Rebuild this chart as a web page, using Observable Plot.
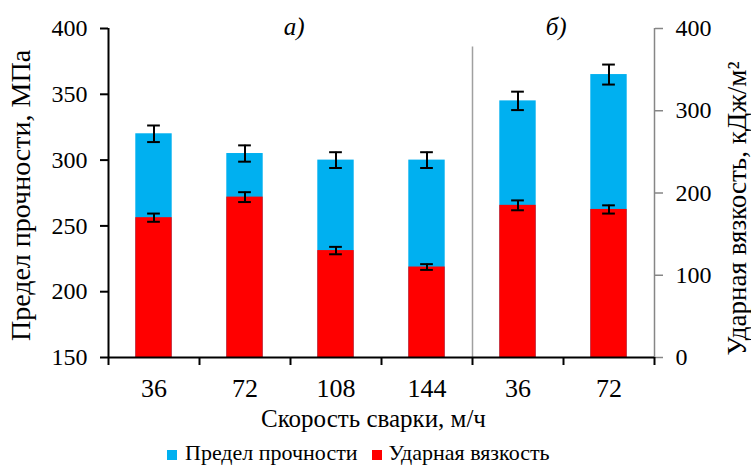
<!DOCTYPE html>
<html><head><meta charset="utf-8">
<script src="https://cdn.jsdelivr.net/npm/d3@7"></script>
<script src="https://cdn.jsdelivr.net/npm/@observablehq/plot@0.6"></script>
<style>
body{margin:0;padding:0;background:#fff;}
.serif{font-family:'Liberation Serif',serif;}
</style></head><body>
<div id="chart" class="serif" style="position:relative;width:751px;height:467px;font-family:'Liberation Serif',serif;"></div>
<script>
const speeds = ["36","72","108","144","36","72"];
const strength = [320, 305, 300, 300, 345, 365];
const strengthErr = [6.3, 6.2, 6, 6, 7, 7.6];
const toughness = [170, 195, 130, 110, 185, 180];
const toughnessErr = [5, 6, 4.5, 3.5, 6, 5];
const leftTicks = [150, 200, 250, 300, 350, 400];
const rightTicks = [0, 100, 200, 300, 400];
const panelLabels = ["а)", "б)"];
const panelCenters = [2.04, 4.92];
const dividers = [4];
const seriesNames = ["Предел прочности", "Ударная вязкость"];
const colors = ["#00B0F0", "#FF0000"];
const leftTitle = "Предел прочности, МПа";
const rightTitle = "Ударная вязкость, кДж/м²";
const xTitle = "Скорость сварки, м/ч";

const toLeft = d3.scaleLinear([0, 400], [150, 400]);
const rows = speeds.map((s, i) => ({
  i, speed: s,
  s: strength[i], sLo: strength[i] - strengthErr[i], sHi: strength[i] + strengthErr[i],
  t: toLeft(toughness[i]), tLo: toLeft(toughness[i] - toughnessErr[i]), tHi: toLeft(toughness[i] + toughnessErr[i])
}));
const cap = 0.07;
const gray = "#868686";
const ff = "Liberation Serif";

const errMarks = (lo, hi) => [
  Plot.ruleX(rows, {x: d => d.i + 0.5, y1: lo, y2: hi, stroke: "#000", strokeWidth: 2}),
  Plot.ruleY(rows, {y: lo, x1: d => d.i + 0.5 - cap, x2: d => d.i + 0.5 + cap, stroke: "#000", strokeWidth: 2}),
  Plot.ruleY(rows, {y: hi, x1: d => d.i + 0.5 - cap, x2: d => d.i + 0.5 + cap, stroke: "#000", strokeWidth: 2})
];

const plot = Plot.plot({
  width: 751, height: 440,
  marginLeft: 108, marginRight: 97, marginTop: 28, marginBottom: 83,
  style: "font-family: 'Liberation Serif', serif; font-size: 24px; color: #000; background: #fff;",
  x: {type: "linear", domain: [0, 6], axis: null},
  y: {domain: [150, 400], axis: null},
  marks: [
    Plot.rectY(rows, {x1: d => d.i + 0.3, x2: d => d.i + 0.7, y1: 150, y2: "s", fill: colors[0]}),
    Plot.rectY(rows, {x1: d => d.i + 0.3, x2: d => d.i + 0.7, y1: 150, y2: "t", fill: colors[1]}),
    ...errMarks("sLo", "sHi"),
    ...errMarks("tLo", "tHi"),
    Plot.ruleX(dividers, {y1: 150, y2: 386, stroke: "#a0a0a0", strokeWidth: 1.5}),
    // left axis
    Plot.axisY({ticks: leftTicks, tickSize: 8, tickPadding: 13, label: null, stroke: "#000", strokeWidth: 2,
      fontSize: 24, fontFamily: ff, fill: "#000"}),
    Plot.ruleX([0], {stroke: "#000", strokeWidth: 2}),
    // right axis
    Plot.axisY(rightTicks.map(toLeft), {anchor: "right", tickSize: 8, tickPadding: 13, label: null,
      tickFormat: v => String(Math.round(toLeft.invert(v))), stroke: gray, strokeWidth: 1.5,
      fontSize: 24, fontFamily: ff, fill: "#000"}),
    Plot.ruleX([6], {stroke: gray, strokeWidth: 1.5}),
    // x axis
    Plot.axisX({ticks: d3.range(0.5, 6, 1), tickSize: 0, tickPadding: 21, label: null,
      tickFormat: v => speeds[Math.floor(v)], fontSize: 26, fontFamily: ff, fill: "#000"}),
    Plot.axisX({ticks: d3.range(0, 7), tickSize: 8, tickFormat: () => "", label: null, stroke: "#000", strokeWidth: 2}),
    Plot.ruleY([150], {stroke: "#000", strokeWidth: 2}),
    // panel labels
    Plot.text(panelLabels, {x: (d, i) => panelCenters[i], y: 400, text: d => d, fontStyle: "italic",
      fontSize: 25, dy: -1.5, fontFamily: ff, fill: "#000"}),
    // axis titles
    Plot.text([leftTitle], {frameAnchor: "left", textAnchor: "middle", lineAnchor: "middle", dx: -87, dy: 2.5,
      rotate: -90, fontSize: 28, fontFamily: ff, fill: "#000"}),
    Plot.text([rightTitle], {frameAnchor: "right", textAnchor: "middle", lineAnchor: "middle", dx: 83, dy: 15.5,
      rotate: -90, fontSize: 27, fontFamily: ff, fill: "#000"}),
    Plot.text([xTitle], {frameAnchor: "bottom", textAnchor: "middle", lineAnchor: "middle", dx: -8, dy: 61.7,
      fontSize: 25, fontFamily: ff, fill: "#000"})
  ]
});
plot.setAttribute("font-family", "Liberation Serif");
plot.style.fontFamily = "'Liberation Serif', serif";
const chart = document.getElementById("chart");
chart.appendChild(plot);

const legend = document.createElement("div");
legend.style.cssText = "position:absolute;left:167px;top:442px;display:flex;align-items:center;font-family:'Liberation Serif',serif;font-size:22px;line-height:1;color:#000;white-space:nowrap;";
seriesNames.forEach((name, k) => {
  const sw = document.createElement("span");
  sw.style.cssText = "display:inline-block;width:10px;height:10px;position:relative;top:1.5px;margin-right:" + (k === 0 ? 8 : 7) + "px;background:" + colors[k] + ";";
  const label = document.createElement("span");
  label.textContent = name;
  label.style.cssText = "font-family:'Liberation Serif',serif;margin-right:" + (k === 0 ? 14 : 0) + "px;";
  legend.appendChild(sw);
  legend.appendChild(label);
});
chart.appendChild(legend);
</script>
</body></html>
